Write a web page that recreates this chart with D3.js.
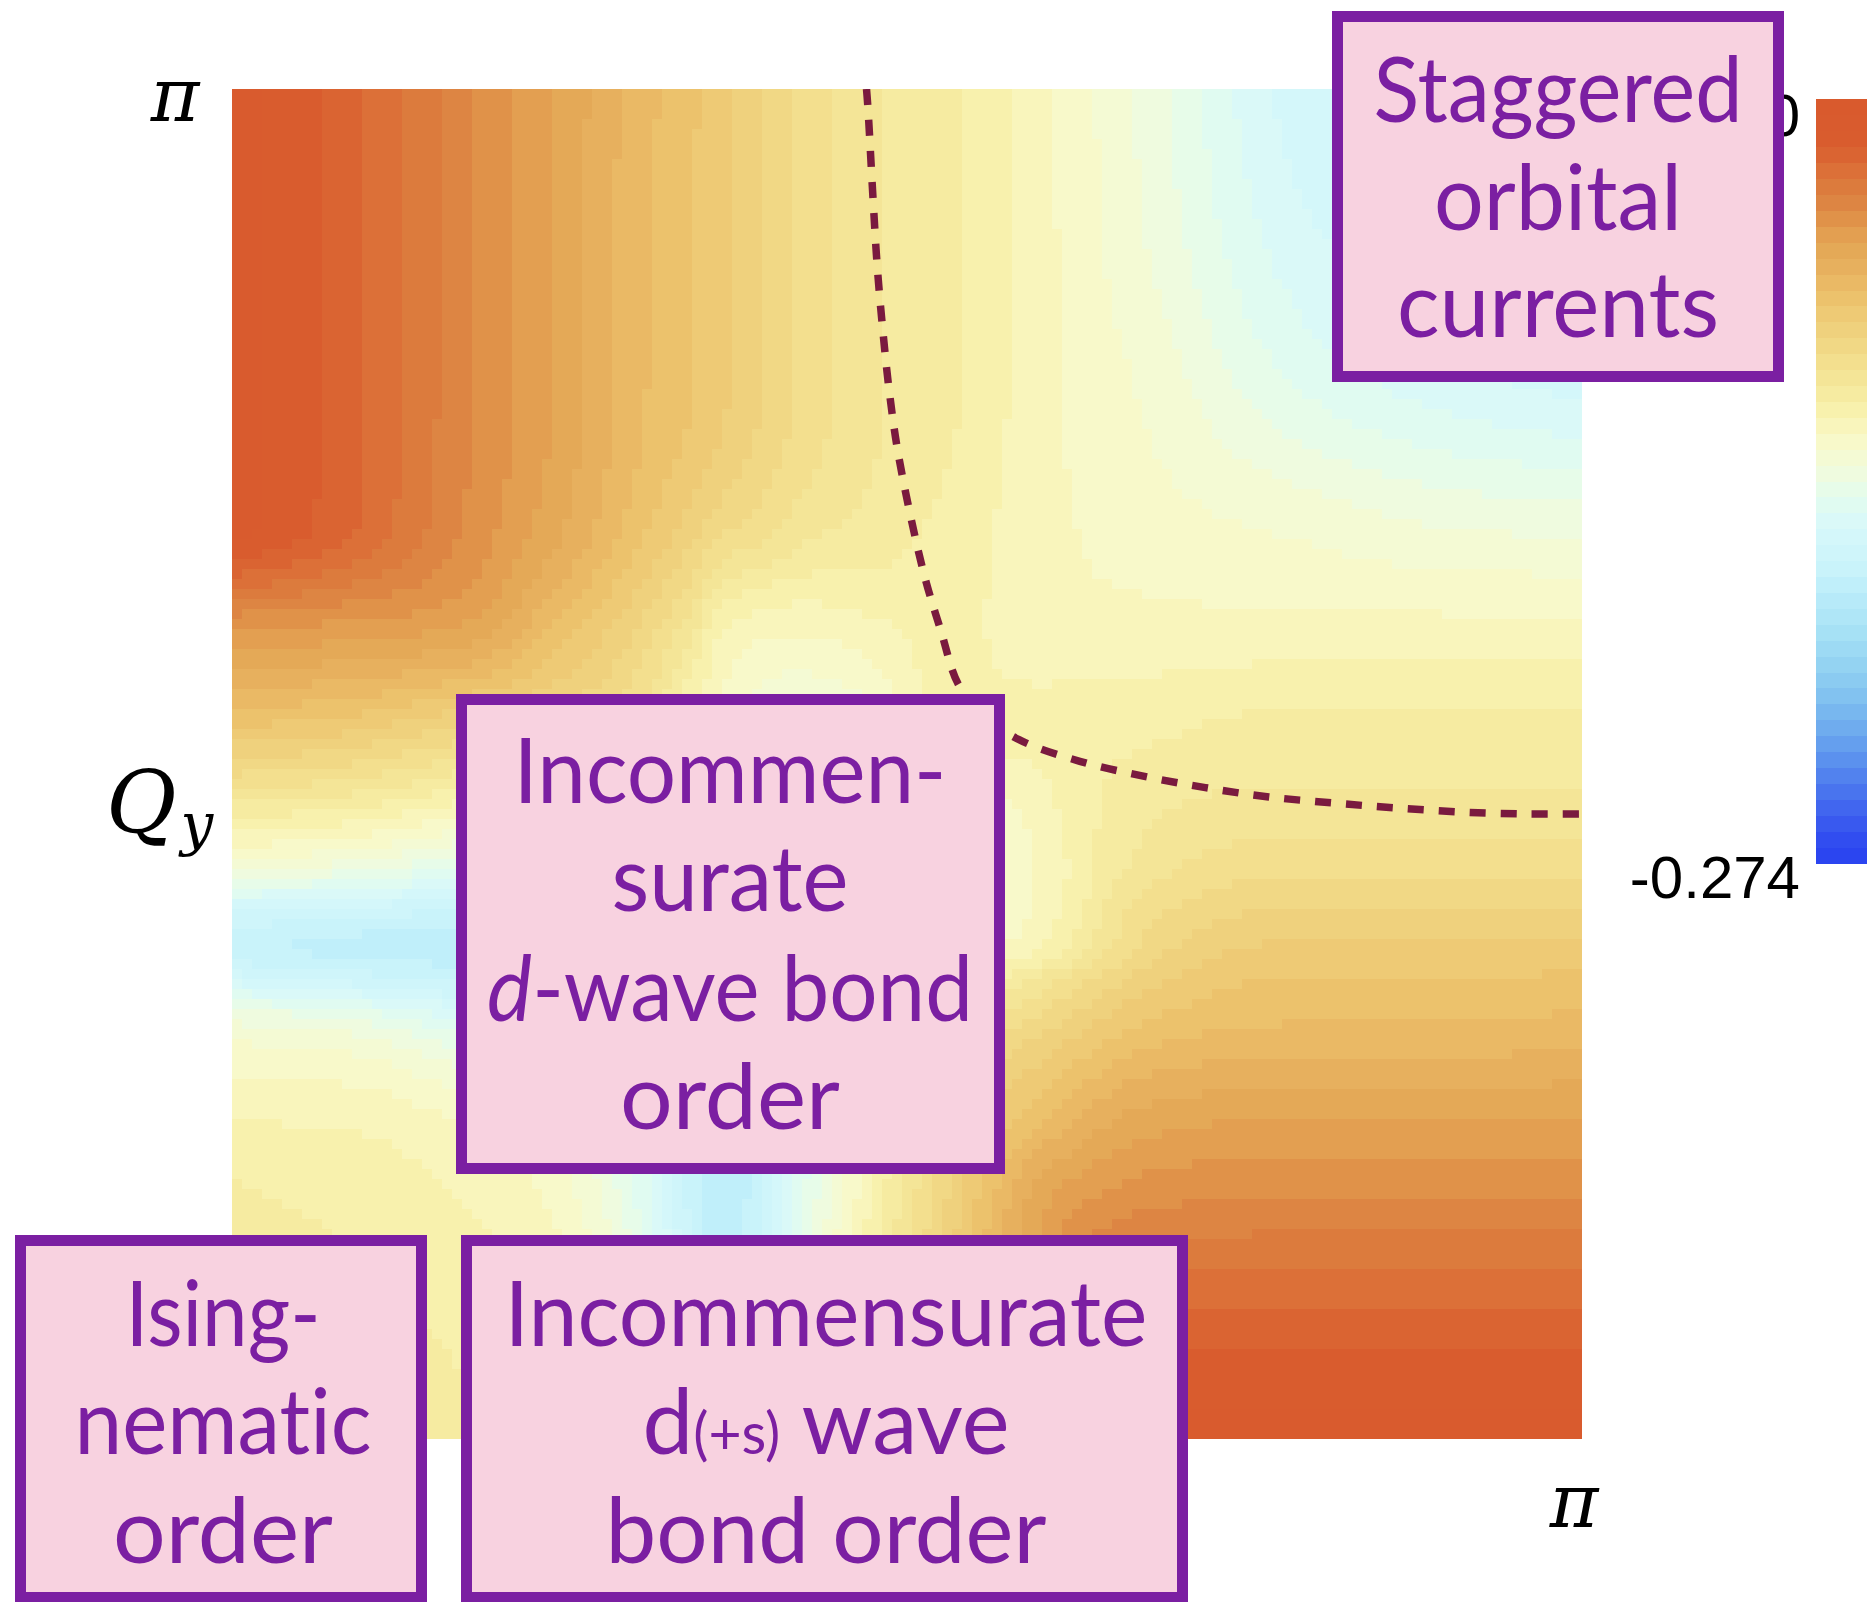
<!DOCTYPE html>
<html>
<head>
<meta charset="utf-8">
<script src="https://cdn.jsdelivr.net/npm/d3@7"></script>
<style>
  html, body { margin: 0; padding: 0; background: #ffffff; }
  svg { display: block; }
</style>
</head>
<body>
<svg id="chart" width="1867" height="1602"></svg>
<script>
// ---------------------------------------------------------------------------
// Data: instability eigenvalue over the quadrant 0 <= Qx, Qy <= π
// ---------------------------------------------------------------------------

// Sample momenta (units of π), shared by both axes
const qKnots = [0, 0.09, 0.17, 0.24, 0.31, 0.34, 0.364, 0.39, 0.42, 0.47, 0.53, 0.60, 0.68, 0.78, 0.89, 1.0];

// Eigenvalue samples: one row per Qy knot (ascending), one column per Qx knot (ascending)
const eigenValues = [
  [-0.104, -0.105, -0.107, -0.115, -0.132, -0.156, -0.170, -0.159, -0.132, -0.103, -0.073, -0.045, -0.008, -0.008, -0.008, -0.008],
  [-0.105, -0.107, -0.110, -0.116, -0.137, -0.162, -0.173, -0.163, -0.137, -0.107, -0.077, -0.048, -0.022, -0.021, -0.021, -0.021],
  [-0.107, -0.110, -0.114, -0.121, -0.148, -0.167, -0.175, -0.167, -0.145, -0.115, -0.085, -0.052, -0.040, -0.038, -0.038, -0.038],
  [-0.115, -0.116, -0.121, -0.129, -0.153, -0.173, -0.181, -0.173, -0.151, -0.121, -0.090, -0.070, -0.055, -0.052, -0.052, -0.052],
  [-0.132, -0.137, -0.148, -0.153, -0.170, -0.186, -0.195, -0.186, -0.164, -0.132, -0.104, -0.089, -0.074, -0.069, -0.069, -0.067],
  [-0.156, -0.162, -0.167, -0.173, -0.186, -0.203, -0.214, -0.203, -0.178, -0.142, -0.118, -0.101, -0.082, -0.074, -0.074, -0.073],
  [-0.170, -0.173, -0.175, -0.181, -0.195, -0.214, -0.225, -0.214, -0.189, -0.153, -0.126, -0.114, -0.089, -0.079, -0.079, -0.078],
  [-0.159, -0.163, -0.167, -0.173, -0.186, -0.203, -0.214, -0.208, -0.186, -0.156, -0.132, -0.118, -0.093, -0.085, -0.085, -0.085],
  [-0.132, -0.137, -0.145, -0.151, -0.164, -0.178, -0.189, -0.186, -0.175, -0.153, -0.134, -0.119, -0.099, -0.092, -0.092, -0.092],
  [-0.103, -0.107, -0.115, -0.121, -0.132, -0.142, -0.153, -0.156, -0.153, -0.142, -0.129, -0.116, -0.104, -0.101, -0.101, -0.101],
  [-0.073, -0.077, -0.085, -0.090, -0.104, -0.118, -0.126, -0.132, -0.134, -0.129, -0.112, -0.112, -0.110, -0.107, -0.107, -0.107],
  [-0.045, -0.048, -0.052, -0.070, -0.089, -0.101, -0.114, -0.118, -0.119, -0.116, -0.112, -0.118, -0.118, -0.118, -0.118, -0.118],
  [-0.008, -0.022, -0.040, -0.055, -0.074, -0.082, -0.089, -0.093, -0.099, -0.104, -0.110, -0.118, -0.123, -0.127, -0.132, -0.134],
  [-0.008, -0.021, -0.038, -0.052, -0.069, -0.074, -0.079, -0.085, -0.092, -0.101, -0.107, -0.118, -0.127, -0.142, -0.151, -0.156],
  [-0.008, -0.021, -0.038, -0.052, -0.069, -0.074, -0.079, -0.085, -0.092, -0.101, -0.107, -0.118, -0.132, -0.151, -0.159, -0.164],
  [-0.008, -0.021, -0.038, -0.052, -0.067, -0.073, -0.078, -0.085, -0.092, -0.101, -0.107, -0.118, -0.134, -0.156, -0.164, -0.170]
];

// Colour-bar range and its end labels
const valueMin = -0.274;
const valueMax = 0;
const colorbarLabels = ["0", "-0.274"];

// Dashed boundary curve (units of π)
const boundaryQx = [0.470, 0.471, 0.475, 0.478, 0.482, 0.487, 0.494, 0.512, 0.525, 0.538, 0.555, 0.583, 0.628, 0.675, 0.721, 0.768, 0.816, 0.863, 0.911, 0.958, 1.000];
const boundaryQy = [1.000, 0.987, 0.916, 0.868, 0.822, 0.775, 0.727, 0.643, 0.599, 0.559, 0.537, 0.518, 0.502, 0.491, 0.4825, 0.4756, 0.4711, 0.4674, 0.4644, 0.463, 0.463];

// Axis labels
const axisTickLabel = "π";
const axisTitleMain = "Q";
const axisTitleSub = "y";

// Order annotations (segments: [text, style]; style "i" = italic, "s" = small)
const orderLabels = [
  [[["Staggered"]], [["orbital"]], [["currents"]]],
  [[["Incommen-"]], [["surate"]], [["d", "i"], ["-wave bond"]], [["order"]]],
  [[["Ising-"]], [["nematic"]], [["order"]]],
  [[["Incommensurate"]], [["d"], ["(+s)", "s"], [" wave"]], [["bond order"]]]
];

// ---------------------------------------------------------------------------
// Layout
// ---------------------------------------------------------------------------
const plot = { x0: 232, x1: 1582, y0: 89, y1: 1439 };
const bar = { x: 1816, width: 70, y0: 99, y1: 863 };
const boxFrames = [
  { x0: 1332, y0: 11,   x1: 1784, y1: 382,  baselines: [122, 230, 337],        widths: [369, 248, 322],      cx: 1558 },
  { x0: 456,  y0: 694,  x1: 1005, y1: 1174, baselines: [803, 911, 1021, 1129], widths: [433, 237, 486, 220], cx: 730 },
  { x0: 15,   y0: 1235, x1: 427,  y1: 1603, baselines: [1346, 1454, 1563],     widths: [195, 297, 220],      cx: 223 },
  { x0: 461,  y0: 1235, x1: 1188, y1: 1603, baselines: [1346, 1454, 1563],     widths: [643, 367, 441],      cx: 826 }
];

const purple = "#7b1fa2";
const pink = "#f8d2e0";

// ---------------------------------------------------------------------------
// Colour map (fraction measured from the top of the bar) and quantized scale
// ---------------------------------------------------------------------------
const cmapStops = [0, 0.06, 0.10, 0.13, 0.155, 0.175, 0.20, 0.23, 0.255, 0.28, 0.31, 0.35, 0.38, 0.41, 0.44, 0.48, 0.52, 0.56, 0.61, 0.64, 0.70, 0.77, 0.835, 0.90, 0.965, 1.0];
const cmapColors = ["#d95a2d", "#d95c2e", "#dc743a", "#dc8241", "#e09148", "#e39e50", "#e4aa58", "#e8b462", "#ecc069", "#eeca75", "#f0d480", "#f3e191", "#f6ea9e", "#f8f2af", "#faf8c6", "#f2fbda", "#e4fcee", "#d7f8fa", "#cbf4fa", "#beeefa", "#a5e1f5", "#87c8f0", "#69a5ee", "#4b78ee", "#324ef0", "#2841f0"];

const smoothColor = d3.scaleLinear()
  .domain(cmapStops.map(f => valueMax + (valueMin - valueMax) * f))
  .range(cmapColors)
  .interpolate(d3.interpolateRgb)
  .clamp(true);

const nLevels = 48;
const levelColors = d3.range(nLevels).map(k =>
  smoothColor(valueMin + (k + 0.5) * (valueMax - valueMin) / nLevels));
const color = d3.scaleQuantize().domain([valueMin, valueMax]).range(levelColors);

// ---------------------------------------------------------------------------
// Monotone (Steffen) cubic through the samples, used along each axis
// ---------------------------------------------------------------------------
function monotoneCubic(xs, ys) {
  const n = xs.length, h = [], s = [], d = new Array(n);
  for (let i = 0; i < n - 1; i++) { h[i] = xs[i + 1] - xs[i]; s[i] = (ys[i + 1] - ys[i]) / h[i]; }
  d[0] = s[0]; d[n - 1] = s[n - 2];
  for (let i = 1; i < n - 1; i++) {
    const p = (s[i - 1] * h[i] + s[i] * h[i - 1]) / (h[i - 1] + h[i]);
    d[i] = (Math.sign(s[i - 1]) + Math.sign(s[i])) *
      Math.min(Math.abs(s[i - 1]), Math.abs(s[i]), 0.5 * Math.abs(p));
  }
  return x => {
    let i = d3.bisectRight(xs, x) - 1;
    i = Math.max(0, Math.min(n - 2, i));
    const t = (x - xs[i]) / h[i], t2 = t * t, t3 = t2 * t;
    return (2 * t3 - 3 * t2 + 1) * ys[i] + (t3 - 2 * t2 + t) * h[i] * d[i] +
      (-2 * t3 + 3 * t2) * ys[i + 1] + (t3 - t2) * h[i] * d[i + 1];
  };
}

// ---------------------------------------------------------------------------
// Scales
// ---------------------------------------------------------------------------
const x = d3.scaleLinear().domain([0, 1]).range([plot.x0, plot.x1]);
const y = d3.scaleLinear().domain([0, 1]).range([plot.y1, plot.y0]);
const barY = d3.scaleLinear().domain([valueMax, valueMin]).range([bar.y0, bar.y1]);

const svg = d3.select("#chart");

// ---------------------------------------------------------------------------
// Heat map cells
// ---------------------------------------------------------------------------
const nCells = 135;
const centers = d3.range(nCells).map(k => (k + 0.5) / nCells);
const rowFns = eigenValues.map(row => monotoneCubic(qKnots, row));
const cells = [];
centers.forEach((qx, ix) => {
  const column = rowFns.map(f => f(qx));
  const colFn = monotoneCubic(qKnots, column);
  centers.forEach((qy, iy) => cells.push({ ix, iy, v: colFn(qy) }));
});

svg.append("g")
  .attr("shape-rendering", "crispEdges")
  .selectAll("rect")
  .data(cells)
  .join("rect")
  .attr("x", d => x(d.ix / nCells))
  .attr("y", d => y((d.iy + 1) / nCells))
  .attr("width", d => x((d.ix + 1) / nCells) - x(d.ix / nCells))
  .attr("height", d => y(d.iy / nCells) - y((d.iy + 1) / nCells))
  .attr("fill", d => color(d.v));

// Dashed boundary, clipped to the map
svg.append("clipPath").attr("id", "plot-clip")
  .append("rect")
  .attr("x", plot.x0).attr("y", plot.y0)
  .attr("width", plot.x1 - plot.x0).attr("height", plot.y1 - plot.y0);

const boundary = boundaryQx.map((q, i) => [q, boundaryQy[i]]);
svg.append("path")
  .datum(boundary)
  .attr("clip-path", "url(#plot-clip)")
  .attr("d", d3.line().x(d => x(d[0])).y(d => y(d[1])).curve(d3.curveCatmullRom.alpha(0.5)))
  .attr("fill", "none")
  .attr("stroke", "#7a1a3f")
  .attr("stroke-width", 7.5)
  .attr("stroke-dasharray", "16 15");

// ---------------------------------------------------------------------------
// Colour bar
// ---------------------------------------------------------------------------
const barLevels = d3.range(nLevels).map(k => ({
  lo: valueMin + k * (valueMax - valueMin) / nLevels,
  hi: valueMin + (k + 1) * (valueMax - valueMin) / nLevels
}));
svg.append("g")
  .attr("shape-rendering", "crispEdges")
  .selectAll("rect")
  .data(barLevels)
  .join("rect")
  .attr("x", bar.x)
  .attr("width", bar.width)
  .attr("y", d => barY(d.hi))
  .attr("height", d => barY(d.lo) - barY(d.hi) + 0.5)
  .attr("fill", d => color((d.lo + d.hi) / 2));

svg.append("g")
  .selectAll("text")
  .data([{ label: colorbarLabels[0], v: valueMax, dy: 37 }, { label: colorbarLabels[1], v: valueMin, dy: 35 }])
  .join("text")
  .attr("x", 1800)
  .attr("y", d => barY(d.v) + d.dy)
  .attr("text-anchor", "end")
  .attr("font-family", "'Liberation Sans', Arial, sans-serif")
  .attr("font-size", 60)
  .attr("fill", "#000")
  .text(d => d.label);

// ---------------------------------------------------------------------------
// Axis labels
// ---------------------------------------------------------------------------
const mathFont = "'DejaVu Serif', 'Liberation Serif', serif";
svg.append("text")
  .attr("x", 175).attr("y", y(1) + 32)
  .attr("text-anchor", "middle")
  .attr("font-family", mathFont).attr("font-style", "italic")
  .attr("font-size", 74)
  .text(axisTickLabel);
svg.append("text")
  .attr("x", x(1) - 8).attr("y", y(0) + 88)
  .attr("text-anchor", "middle")
  .attr("font-family", mathFont).attr("font-style", "italic")
  .attr("font-size", 74)
  .text(axisTickLabel);
const qLabel = svg.append("text")
  .attr("x", 106).attr("y", 832)
  .attr("font-family", mathFont).attr("font-style", "italic")
  .attr("font-size", 86);
qLabel.append("tspan").text(axisTitleMain);
qLabel.append("tspan").attr("font-size", 58).attr("dx", 4).attr("dy", 12).text(axisTitleSub);

// ---------------------------------------------------------------------------
// Annotation boxes
// ---------------------------------------------------------------------------
const strokeW = 11;
const boxG = svg.append("g");
boxFrames.forEach((b, bi) => {
  boxG.append("rect")
    .attr("x", b.x0 + strokeW / 2).attr("y", b.y0 + strokeW / 2)
    .attr("width", b.x1 - b.x0 - strokeW).attr("height", b.y1 - b.y0 - strokeW)
    .attr("fill", pink)
    .attr("stroke", purple)
    .attr("stroke-width", strokeW);

  orderLabels[bi].forEach((segments, li) => {
    const t = boxG.append("text")
      .attr("x", b.cx)
      .attr("y", b.baselines[li])
      .attr("text-anchor", "middle")
      .attr("font-family", "Lato, 'Open Sans', sans-serif")
      .attr("font-size", 92)
      .attr("fill", purple)
      .style("font-variant-ligatures", "none")
      .attr("textLength", b.widths[li])
      .attr("lengthAdjust", "spacingAndGlyphs");
    segments.forEach(([str, style]) => {
      const sp = t.append("tspan").text(str);
      if (style === "i") sp.attr("font-style", "italic");
      if (style === "s") sp.attr("font-size", 58);
    });
  });
});
</script>
</body>
</html>
